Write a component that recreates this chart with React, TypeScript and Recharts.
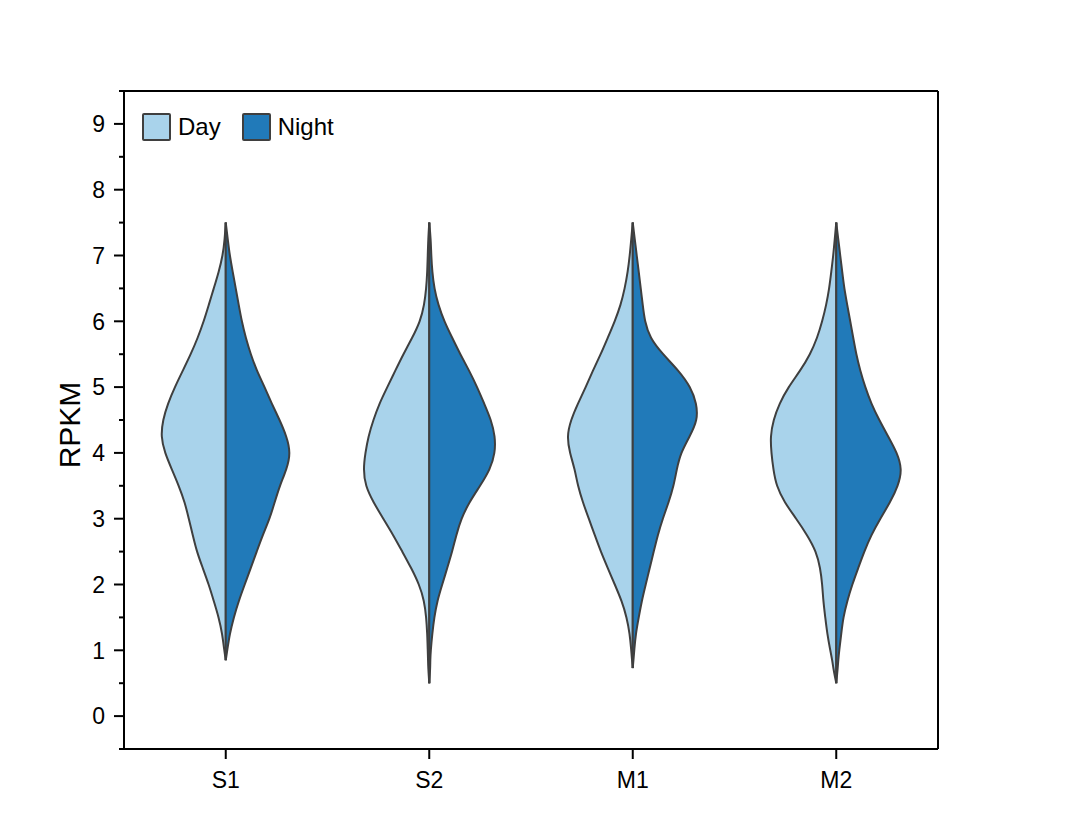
import React from "react"
import {
  Area,
  ComposedChart,
  Legend,
  ReferenceLine,
  XAxis,
  YAxis,
} from "recharts"

// RPKM levels the violin outlines were read at (top to bottom)
const levels = [
  7.5, 7.25, 7, 6.75, 6.5, 6.25, 6, 5.75, 5.5, 5.25, 5, 4.75, 4.5, 4.25, 4,
  3.75, 3.5, 3.25, 3, 2.75, 2.5, 2.25, 2, 1.75, 1.5, 1.25, 1, 0.85, 0.73, 0.5,
]

const groups = ["S1", "S2", "M1", "M2"]

// relative kernel density (x100) at each level, null = outside the violin
const s1Day = [0, 1, 3, 7, 12, 17, 22, 28, 35, 43, 51, 58, 63, 65, 61, 54, 47, 41, 37, 33, 29, 23, 17, 12, 7, 3.5, 1.5, 0, null, null]
const s1Night = [0, 2, 4, 7, 10, 13, 16, 20, 25, 31, 39, 46, 54, 61, 65, 61, 54, 49, 44, 37, 31, 25, 19, 13, 8, 4, 1.5, 0, null, null]
const s2Day = [0, 1, 1.5, 2, 3, 5, 9, 17, 26, 34, 42, 50, 56, 61, 64, 66, 64, 56, 46, 36, 27, 18, 10, 5, 3, 2, 1.5, 1.2, 1, 0]
const s2Night = [0, 1.5, 2, 3, 5, 9, 15, 23, 31, 40, 48, 55, 62, 66, 66, 61, 51, 40, 32, 27, 23, 18, 13, 8, 5, 3, 1.5, 1, 1, 0]
const m1Day = [0, 1.5, 3, 5, 8, 12, 18, 25, 32, 40, 47, 55, 62, 66, 63, 58, 55, 50, 44, 38, 32, 25, 18, 11, 6, 3, 1.5, 0.7, 0, null]
const m1Night = [0, 2, 4, 6, 8, 10, 12, 17, 30, 46, 58, 64, 65, 57, 48, 44, 41, 36, 30, 25, 21, 17, 13, 9, 6, 3, 1.5, 0.7, 0, null]
const m2Day = [0, 1.5, 3, 5, 7, 10, 14, 19, 26, 36, 48, 57, 63, 66, 65, 63, 60, 52, 40, 29, 20, 16, 14, 13, 11, 9, 6, 4, 3, 0]
const m2Night = [0, 2, 4, 6, 8, 11, 14, 17, 20, 24, 29, 35, 43, 52, 61, 66, 62, 54, 44, 35, 28, 22, 16, 11, 7, 5, 3, 2, 1.5, 0]

const dayDensity = [s1Day, s2Day, m1Day, m2Day]
const nightDensity = [s1Night, s2Night, m1Night, m2Night]

const yTicks = [
  -0.5, 0, 0.5, 1, 1.5, 2, 2.5, 3, 3.5, 4, 4.5, 5, 5.5, 6, 6.5, 7, 7.5, 8,
  8.5, 9, 9.5,
]
const xTicks = [0.5, 1.5, 2.5, 3.5]

const DAY = "#a9d3eb"
const NIGHT = "#217ab9"
const OUTLINE = "#3f3f3f"
const FONT = "'Liberation Sans', Arial, sans-serif"
const DENSITY_TO_X = 1 / 203.75

const data = levels.map((y, i) => {
  const row: Record<string, any> = { y }
  groups.forEach((g, gi) => {
    const c = gi + 0.5
    const d = dayDensity[gi][i]
    const n = nightDensity[gi][i]
    row[g + "Day"] = d == null ? [null, null] : [c - d * DENSITY_TO_X, c]
    row[g + "Night"] = n == null ? [null, null] : [c, c + n * DENSITY_TO_X]
  })
  return row
})

const Y_TICK = 10
const Y_MARGIN = 9

function YTick(props: any) {
  const { x, y, payload } = props
  const major = Number.isInteger(payload.value)
  const axisX = x + Y_TICK + Y_MARGIN
  return (
    <g>
      <line
        x1={axisX - (major ? Y_TICK : 5)}
        x2={axisX}
        y1={y}
        y2={y}
        stroke="#000"
        strokeWidth={2}
      />
      {major && (
        <text
          x={x}
          y={y}
          dy="0.36em"
          textAnchor="end"
          fontSize={23}
          fontFamily={FONT}
          fill="#000"
        >
          {payload.value}
        </text>
      )}
    </g>
  )
}

function LegendBox() {
  const items = [
    { label: "Day", color: DAY },
    { label: "Night", color: NIGHT },
  ]
  return (
    <div style={{ display: "flex", alignItems: "center", fontFamily: FONT, fontSize: 24, color: "#000" }}>
      {items.map((it) => (
        <div key={it.label} style={{ display: "flex", alignItems: "center", marginRight: 21 }}>
          <span
            style={{
              display: "inline-block",
              width: 29,
              height: 28,
              boxSizing: "border-box",
              border: `2px solid ${OUTLINE}`,
              borderRadius: 2,
              background: it.color,
              marginRight: 7,
            }}
          />
          <span>{it.label}</span>
        </div>
      ))}
    </div>
  )
}

export default function App() {
  return (
    <div style={{ position: "absolute", left: 0, top: 0, background: "#fff", fontFamily: FONT }}>
      <ComposedChart
        width={1080}
        height={826}
        data={data}
        layout="vertical"
        margin={{ top: 91, right: 142, bottom: 17, left: 0 }}
      >
        <XAxis
          type="number"
          domain={[0, 4]}
          ticks={xTicks}
          interval={0}
          allowDataOverflow
          height={60}
          tickSize={10}
          tickMargin={13}
          tickFormatter={(v: number) => groups[Math.floor(v)]}
          tick={{ fill: "#000", fontSize: 23, fontFamily: FONT }}
          axisLine={{ stroke: "#000", strokeWidth: 2 }}
          tickLine={{ stroke: "#000", strokeWidth: 2 }}
        />
        <YAxis
          type="number"
          dataKey="y"
          domain={[-0.5, 9.5]}
          reversed
          ticks={yTicks}
          interval={0}
          allowDataOverflow
          width={124}
          tickSize={Y_TICK}
          tickMargin={Y_MARGIN}
          tickLine={false}
          tick={<YTick />}
          axisLine={{ stroke: "#000", strokeWidth: 2 }}
          label={() => (
            <text
              x={80}
              y={425}
              transform="rotate(-90, 80, 425)"
              textAnchor="middle"
              fontSize={30}
              fontFamily={FONT}
              fill="#000"
            >
              RPKM
            </text>
          )}
        />
        <ReferenceLine y={9.5} stroke="#000" strokeWidth={2} />
        <ReferenceLine x={4} stroke="#000" strokeWidth={2} />
        {groups.map((g) => (
          <Area
            key={g + "Day"}
            dataKey={g + "Day"}
            type="basis"
            fill={DAY}
            fillOpacity={1}
            stroke={OUTLINE}
            strokeWidth={2}
            isAnimationActive={false}
            dot={false}
            activeDot={false}
          />
        ))}
        {groups.map((g) => (
          <Area
            key={g + "Night"}
            dataKey={g + "Night"}
            type="basis"
            fill={NIGHT}
            fillOpacity={1}
            stroke={OUTLINE}
            strokeWidth={2}
            isAnimationActive={false}
            dot={false}
            activeDot={false}
          />
        ))}
        <Legend
          layout="horizontal"
          verticalAlign="middle"
          align="center"
          content={() => <LegendBox />}
          wrapperStyle={{ top: 113, left: 142, width: "auto" }}
        />
      </ComposedChart>
    </div>
  )
}
